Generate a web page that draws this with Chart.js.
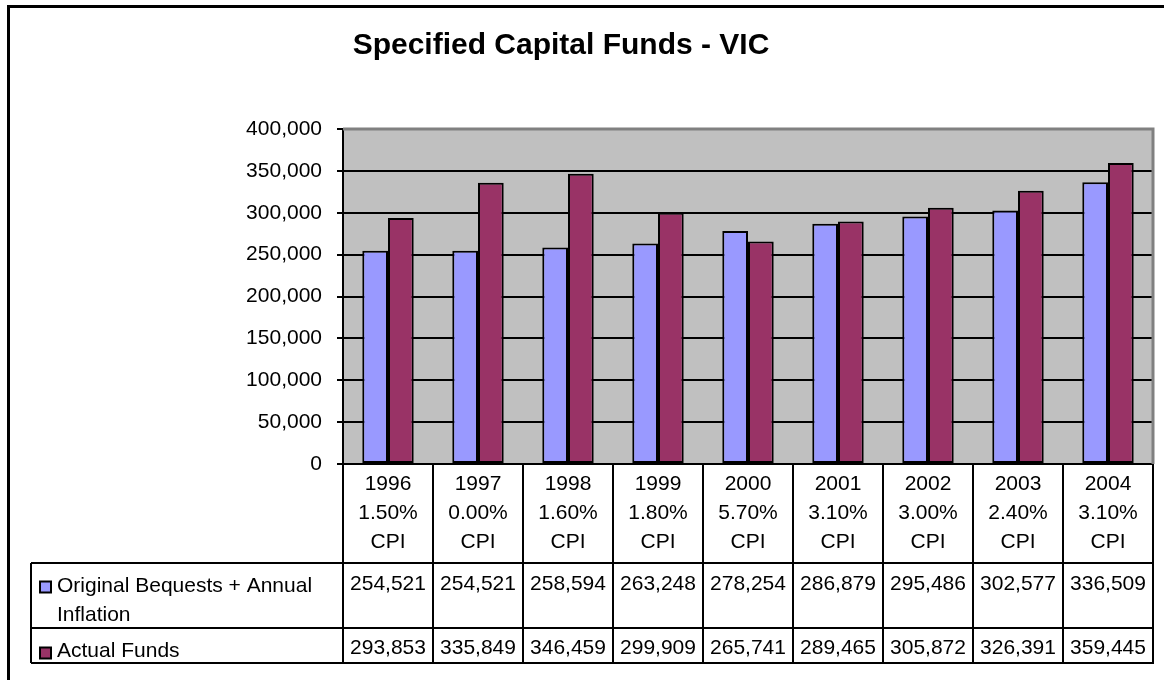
<!DOCTYPE html>
<html>
<head>
<meta charset="utf-8">
<script src="https://cdn.jsdelivr.net/npm/chart.js@4/dist/chart.umd.min.js"></script>
<style>
  html, body { margin: 0; padding: 0; background: #fff; }
  canvas { display: block; }
</style>
</head>
<body>
<canvas id="c" width="1164" height="680"></canvas>
<script>
const chartTitle = 'Specified Capital Funds - VIC';
const years = ['1996', '1997', '1998', '1999', '2000', '2001', '2002', '2003', '2004'];
const cpiRates = ['1.50%', '0.00%', '1.60%', '1.80%', '5.70%', '3.10%', '3.00%', '2.40%', '3.10%'];
const seriesNames = ['Original Bequests + Annual Inflation', 'Actual Funds'];
const legendLines = [['Original Bequests + Annual', 'Inflation'], ['Actual Funds']];
const originalBequests = [254521, 254521, 258594, 263248, 278254, 286879, 295486, 302577, 336509];
const actualFunds = [293853, 335849, 346459, 299909, 265741, 289465, 305872, 326391, 359445];
const yMin = 0, yMax = 400000, yStep = 50000;

const colors = ['#9999FF', '#993366'];
const FONT = '"Liberation Sans", Arial, Helvetica, sans-serif';
const fmt = v => v.toLocaleString('en-US');

const tablePlugin = {
  id: 'excelTable',
  beforeDraw(chart) {
    const ctx = chart.ctx, a = chart.chartArea;
    ctx.save();
    ctx.fillStyle = '#fff';
    ctx.fillRect(0, 0, chart.width, chart.height);
    ctx.fillStyle = '#C0C0C0';
    ctx.fillRect(a.left, a.top, a.right - a.left, a.bottom - a.top);
    ctx.restore();
  },
  afterDraw(chart) {
    const ctx = chart.ctx, a = chart.chartArea;
    const xs = chart.scales.x;
    const half = (xs.getPixelForValue(1) - xs.getPixelForValue(0)) / 2;
    ctx.save();
    // plot border (grey top / right)
    ctx.strokeStyle = '#808080';
    ctx.lineWidth = 3;
    ctx.beginPath();
    ctx.moveTo(a.left, a.top); ctx.lineTo(a.right, a.top); ctx.lineTo(a.right, a.bottom);
    ctx.stroke();

    // table
    const row1Top = 563, row2Top = 628, tableBottom = 663, tableLeft = 31;
    ctx.strokeStyle = '#000';
    ctx.lineWidth = 2;
    ctx.beginPath();
    for (let i = 0; i <= years.length; i++) {
      const x = i < years.length ? xs.getPixelForValue(i) - half : xs.getPixelForValue(years.length - 1) + half;
      ctx.moveTo(x, a.bottom); ctx.lineTo(x, tableBottom);
    }
    [row1Top, row2Top, tableBottom].forEach(y => { ctx.moveTo(tableLeft, y); ctx.lineTo(a.right + 1, y); });
    ctx.moveTo(tableLeft, row1Top); ctx.lineTo(tableLeft, tableBottom);
    ctx.stroke();

    ctx.fillStyle = '#000';
    ctx.font = '21px ' + FONT;
    ctx.textAlign = 'center';
    ctx.textBaseline = 'middle';
    years.forEach((yr, i) => {
      const cx = xs.getPixelForValue(i);
      ctx.fillText(yr, cx, 484);
      ctx.fillText(cpiRates[i], cx, 513);
      ctx.fillText('CPI', cx, 542);
      ctx.fillText(fmt(originalBequests[i]), cx, 584);
      ctx.fillText(fmt(actualFunds[i]), cx, 648);
    });

    // legend keys
    const keyY = [587, 653];
    ctx.textAlign = 'left';
    legendLines.forEach((lines, s) => {
      ctx.fillStyle = colors[s];
      ctx.fillRect(40, keyY[s] - 5.5, 11, 11);
      ctx.strokeStyle = '#000';
      ctx.lineWidth = 2;
      ctx.strokeRect(40, keyY[s] - 5.5, 11, 11);
      ctx.fillStyle = '#000';
      lines.forEach((ln, k) => {
        ctx.fillText(ln, 57, (s === 0 ? 586 : 651) + k * 29);
      });
    });

    // title
    ctx.font = 'bold 30px ' + FONT;
    ctx.textAlign = 'center';
    ctx.fillText(chartTitle, 561, 46);

    // outer frame
    ctx.strokeStyle = '#000';
    ctx.lineWidth = 3;
    ctx.beginPath();
    ctx.moveTo(8.5, 700); ctx.lineTo(8.5, 6.5); ctx.lineTo(1200, 6.5);
    ctx.stroke();
    ctx.restore();
  }
};

new Chart(document.getElementById('c'), {
  type: 'bar',
  data: {
    labels: years,
    datasets: [
      { label: seriesNames[0], data: originalBequests, backgroundColor: colors[0], borderColor: '#000', borderWidth: 2, borderSkipped: false },
      { label: seriesNames[1], data: actualFunds, backgroundColor: colors[1], borderColor: '#000', borderWidth: 2, borderSkipped: false }
    ]
  },
  options: {
    responsive: false,
    animation: false,
    events: [],
    layout: { padding: { left: 0, top: 129, right: 11, bottom: 216 } },
    datasets: { bar: { categoryPercentage: 2 / 3.5, barPercentage: 1 } },
    plugins: { legend: { display: false }, title: { display: false }, tooltip: { enabled: false } },
    scales: {
      x: {
        ticks: { display: false },
        grid: { display: false, drawTicks: false },
        border: { display: false },
        afterFit: s => { s.height = 0; }
      },
      y: {
        min: yMin, max: yMax,
        ticks: { stepSize: yStep, color: '#000', padding: 15, font: { size: 21, family: FONT }, callback: v => fmt(v) },
        grid: {
          color: c => (c.tick && c.tick.value === yMax) ? '#808080' : '#000',
          tickColor: '#000',
          lineWidth: 2,
          tickLength: 6
        },
        border: { display: true, color: '#000', width: 2 },
        afterFit: s => { s.width = 343; }
      }
    }
  },
  plugins: [tablePlugin]
});
</script>
</body>
</html>
